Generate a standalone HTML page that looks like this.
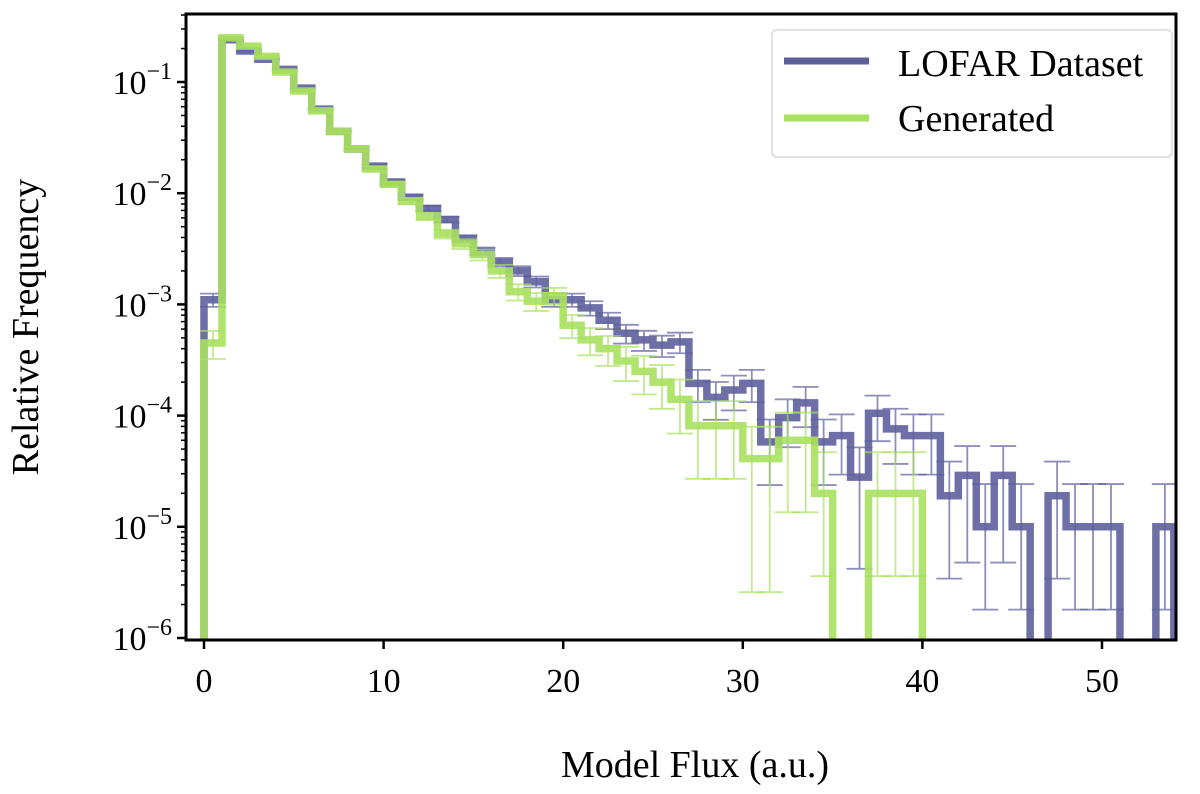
<!DOCTYPE html>
<html><head><meta charset="utf-8"><style>
html,body{margin:0;padding:0;background:#fff;}
svg{display:block;font-family:"Liberation Serif",serif;}
</style></head><body>
<svg id="chart" width="1200" height="794" viewBox="0 0 1200 794" xmlns="http://www.w3.org/2000/svg">
<g id="plot"></g>
<rect x="186" y="14" width="990" height="626" fill="none" stroke="#000" stroke-width="3"/>
<g id="axes"></g>
<text x="695" y="777" font-size="38" text-anchor="middle">Model Flux (a.u.)</text>
<text transform="translate(38,327) rotate(-90)" font-size="38" text-anchor="middle">Relative Frequency</text>
<g>
<rect x="772" y="30" width="400" height="127" rx="5" fill="#fff" stroke="#d8d8d8" stroke-width="1.5"/>
<line x1="784" y1="61" x2="869" y2="61" stroke="#5d5f9c" stroke-width="7"/>
<text x="898" y="76" font-size="38">LOFAR Dataset</text>
<line x1="784" y1="118" x2="869" y2="118" stroke="#a8e05f" stroke-width="7"/>
<text x="898" y="131" font-size="38">Generated</text>
</g>
</svg>
<script>
const lofarValues=[1.1e-3,0.24,0.19,0.16,0.13,0.088,0.057,0.036,0.025,0.0175,0.0126,0.0092,0.0073,0.0058,0.0039,0.003,0.0024,0.002,0.0016,0.0011,0.0011,0.00093,0.00072,0.00055,0.00048,0.00043,0.00046,0.000195,0.000146,0.00017,0.000195,5.8e-5,9.6e-5,1.3e-4,5.8e-5,6.6e-5,2.8e-5,1.05e-4,7.6e-5,6.6e-5,6.6e-5,1.9e-5,2.9e-5,1e-5,2.9e-5,1e-5,0,1.9e-5,1e-5,1e-5,1e-5,0,0,1e-5];
const generatedValues=[4.5e-4,0.25,0.21,0.17,0.123,0.083,0.055,0.036,0.025,0.0165,0.012,0.0085,0.0062,0.0043,0.0035,0.0028,0.002,0.0013,0.00107,0.0012,6.5e-4,4.8e-4,4e-4,3.1e-4,2.5e-4,2e-4,1.4e-4,8.1e-5,8.1e-5,8.1e-5,4.1e-5,4.1e-5,6e-5,6e-5,2e-5,0,0,2e-5,2e-5,2e-5,0];
const errScale={lofar:0.0045,generated:0.006};
const xTicks=[0,10,20,30,40,50];
const yTickExps=[-6,-5,-4,-3,-2,-1];
const binWidth=1;

const svgNS="http://www.w3.org/2000/svg";
const X0=186,X1=1176,Y0=14,Y1=640;
function xs(v){return 204+v*17.96;}
function ys(v){ if(v<=0) return Y1+20; return 82+(-1-Math.log10(v))*111.2;}
function mk(tag,attrs,parent){const e=document.createElementNS(svgNS,tag);for(const k in attrs)e.setAttribute(k,attrs[k]);parent.appendChild(e);return e;}
const plot=document.getElementById('plot');
const defs=mk('defs',{},document.getElementById('chart'));
const cp=mk('clipPath',{id:'clip'},defs);
mk('rect',{x:X0,y:Y0,width:X1-X0,height:Y1-Y0},cp);
plot.setAttribute('clip-path','url(#clip)');

function drawSeries(vals,color,scale,name){
  const g=mk('g',{},plot);
  
  
  vals.forEach((v,i)=>{
    if(v<=0) return;
    const e=scale*Math.sqrt(v);
    const cx=xs(i*binWidth+binWidth/2);
    const top=ys(v+e);
    const lo=v-e>0?v-e:v*0.18;
    const bot=ys(lo);
    const eb=mk('g',{stroke:color,'stroke-width':1.8,opacity:0.7},g);
    
    
    mk('line',{x1:cx,x2:cx,y1:top,y2:bot},eb);
    mk('line',{x1:cx-13,x2:cx+13,y1:top,y2:top},eb);
    mk('line',{x1:cx-13,x2:cx+13,y1:bot,y2:bot},eb);
  });
  let d='M'+xs(0)+','+(Y1+20);
  vals.forEach((v,i)=>{const y=ys(v);d+=' L'+xs(i*binWidth)+','+y+' L'+xs((i+1)*binWidth)+','+y;});
  d+=' L'+xs(vals.length*binWidth)+','+(Y1+20);
  const p=mk('path',{d:d,fill:'none',stroke:color,'stroke-width':7.5,'stroke-linejoin':'miter',opacity:0.9},g);
  
  
}
drawSeries(lofarValues,'#5d5f9c',errScale.lofar,'lofar');
drawSeries(generatedValues,'#a8e05f',errScale.generated,'generated');

const axes=document.getElementById('axes');
xTicks.forEach(t=>{
  const x=xs(t);
  const l=mk('line',{x1:x,x2:x,y1:Y1,y2:Y1+9,stroke:'#000','stroke-width':2.5},axes);
  
  
  const tx=mk('text',{x:x,y:Y1+52,'font-size':34,'text-anchor':'middle'},axes);
  
  
  tx.textContent=t;
});
yTickExps.forEach(ex=>{
  const y=ys(Math.pow(10,ex));
  const l=mk('line',{x1:X0-9,x2:X0,y1:y,y2:y,stroke:'#000','stroke-width':2.5},axes);
  
  
  const tx=mk('text',{x:X0-14,y:y+12,'font-size':34,'text-anchor':'end'},axes);
  
  
  tx.textContent='10';
  const sp=mk('tspan',{dy:-15,'font-size':24},tx);
  sp.textContent='\u2212'+(-ex);
  for(let m=2;m<10;m++){
    const yy=ys(m*Math.pow(10,ex));
    if(yy<Y0) continue;
    const ml=mk('line',{x1:X0-5,x2:X0,y1:yy,y2:yy,stroke:'#000','stroke-width':1.5},axes);
    
    
  }
});
</script>
</body></html>
